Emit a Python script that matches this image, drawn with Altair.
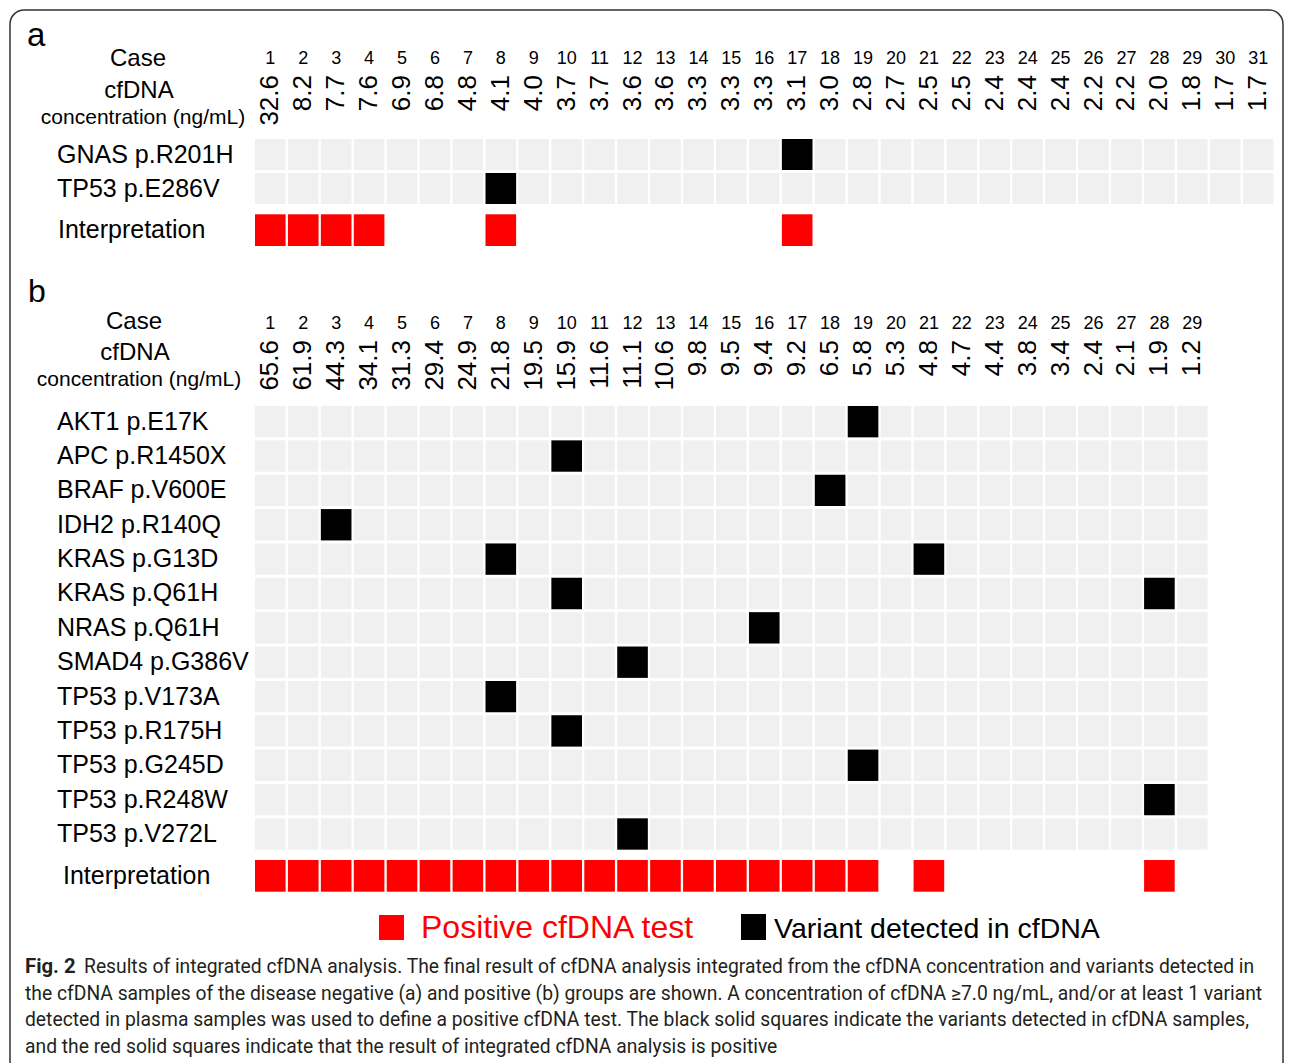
import altair as alt
import pandas as pd

# ---------------- data ----------------
cases_a = list(range(1, 32))
conc_a = ["32.6", "8.2", "7.7", "7.6", "6.9", "6.8", "4.8", "4.1", "4.0", "3.7", "3.7",
          "3.6", "3.6", "3.3", "3.3", "3.3", "3.1", "3.0", "2.8", "2.7", "2.5", "2.5",
          "2.4", "2.4", "2.4", "2.2", "2.2", "2.0", "1.8", "1.7", "1.7"]
variants_a = ["GNAS p.R201H", "TP53 p.E286V"]
detected_a = {"GNAS p.R201H": [17], "TP53 p.E286V": [8]}
positive_a = [1, 2, 3, 4, 8, 17]

cases_b = list(range(1, 30))
conc_b = ["65.6", "61.9", "44.3", "34.1", "31.3", "29.4", "24.9", "21.8", "19.5", "15.9",
          "11.6", "11.1", "10.6", "9.8", "9.5", "9.4", "9.2", "6.5", "5.8", "5.3", "4.8",
          "4.7", "4.4", "3.8", "3.4", "2.4", "2.1", "1.9", "1.2"]
variants_b = ["AKT1 p.E17K", "APC p.R1450X", "BRAF p.V600E", "IDH2 p.R140Q", "KRAS p.G13D",
              "KRAS p.Q61H", "NRAS p.Q61H", "SMAD4 p.G386V", "TP53 p.V173A", "TP53 p.R175H",
              "TP53 p.G245D", "TP53 p.R248W", "TP53 p.V272L"]
detected_b = {"AKT1 p.E17K": [19], "APC p.R1450X": [10], "BRAF p.V600E": [18],
              "IDH2 p.R140Q": [3], "KRAS p.G13D": [8, 21], "KRAS p.Q61H": [10, 28],
              "NRAS p.Q61H": [16], "SMAD4 p.G386V": [12], "TP53 p.V173A": [8],
              "TP53 p.R175H": [10], "TP53 p.G245D": [19], "TP53 p.R248W": [28],
              "TP53 p.V272L": [12]}
positive_b = list(range(1, 20)) + [21, 28]

interp_label = "Interpretation"
panel_labels = ["a", "b"]
header_labels = ["Case", "cfDNA", "concentration (ng/mL)"]
legend_labels = ["Positive cfDNA test", "Variant detected in cfDNA"]
caption_bold = "Fig. 2"
caption_lines = [
    "Results of integrated cfDNA analysis. The final result of cfDNA analysis integrated from the cfDNA concentration and variants detected in",
    "the cfDNA samples of the disease negative (a) and positive (b) groups are shown. A concentration of cfDNA \u22657.0 ng/mL, and/or at least 1 variant",
    "detected in plasma samples was used to define a positive cfDNA test. The black solid squares indicate the variants detected in cfDNA samples,",
    "and the red solid squares indicate that the result of integrated cfDNA analysis is positive",
]

# ---------------- styles ----------------
FONT = "Liberation Sans"
CAP_FONT = "Roboto"
CAP_SIZE = 19.3
GREY = "#f0f0f0"
RED = "#ff0000"
BLACK = "#000000"

X = alt.X("case:O", axis=None,
          scale=alt.Scale(domain=cases_a, range=[245, 1263.5], paddingInner=0.07, paddingOuter=0))


def grid_df(variants, cases, detected):
    return pd.DataFrame([{"variant": v, "case": c,
                          "status": "variant" if c in detected[v] else "none"}
                         for v in variants for c in cases])


def note(text, x, y, size, align="center", baseline="middle", weight="normal",
         color=BLACK, font=FONT):
    return alt.Chart(pd.DataFrame({"t": [text]})).mark_text(
        align=align, baseline=baseline, fontSize=size, fontWeight=weight,
        color=color, font=font).encode(text="t:N", x=alt.value(x), y=alt.value(y))


def panel(cases, conc, variants, detected, positive, var_range, int_range, step_pad,
          num_y, conc_y, lab_x, int_lab_x):
    yv = alt.Y("variant:N", axis=None, sort=variants,
               scale=alt.Scale(domain=variants, range=var_range,
                               paddingInner=step_pad, paddingOuter=0))
    grid = alt.Chart(grid_df(variants, cases, detected)).mark_rect().encode(
        x=X, y=yv,
        color=alt.Color("status:N", legend=None,
                        scale=alt.Scale(domain=["none", "variant"], range=[GREY, BLACK])))
    labels = alt.Chart(pd.DataFrame({"variant": variants})).mark_text(
        align="left", baseline="middle", fontSize=25, font=FONT, color=BLACK).encode(
        y=yv, x=alt.value(lab_x), text="variant:N")
    hdr = pd.DataFrame({"case": cases, "conc": conc})
    nums = alt.Chart(hdr).mark_text(baseline="middle", fontSize=18, font=FONT,
                                    color=BLACK).encode(
        x=X, y=alt.value(num_y), text="case:O")
    concs = alt.Chart(hdr).mark_text(angle=270, align="right", baseline="middle",
                                     fontSize=26, font=FONT, color=BLACK).encode(
        x=X, y=alt.value(conc_y), text="conc:N")
    var_layer = alt.layer(grid, labels, nums, concs)

    yi = alt.Y("row:N", axis=None,
               scale=alt.Scale(domain=[interp_label], range=int_range,
                               paddingInner=0, paddingOuter=0))
    interp = alt.Chart(pd.DataFrame({"row": interp_label, "case": positive})).mark_rect(
        color=RED).encode(x=X, y=yi)
    interp_lab = alt.Chart(pd.DataFrame({"row": [interp_label]})).mark_text(
        align="left", baseline="middle", fontSize=25, font=FONT, color=BLACK).encode(
        y=yi, x=alt.value(int_lab_x), text="row:N")
    int_layer = alt.layer(interp, interp_lab)
    return [var_layer, int_layer]


layers = []
layers += panel(cases_a, conc_a, variants_a, detected_a, positive_a,
                var_range=[129, 129 + 2 * 34 - 3], int_range=[204.3, 236],
                step_pad=3 / 34, num_y=49, conc_y=65, lab_x=47, int_lab_x=48)
layers += panel(cases_b, conc_b, variants_b, detected_b, positive_b,
                var_range=[396, 396 + 13 * 34.36 - 3], int_range=[850, 881.7],
                step_pad=3 / 34.36, num_y=314, conc_y=330, lab_x=47, int_lab_x=53)

# panel letters and headers
layers.append(note(panel_labels[0], 17, 36, 33, align="left", baseline="alphabetic"))
layers.append(note(panel_labels[1], 18, 292, 32, align="left", baseline="alphabetic"))
for (hx, hy), txt, sz in zip([(128, 49), (129, 81), (133, 108)], header_labels, [24, 24, 21]):
    layers.append(note(txt, hx, hy, sz))
for (hx, hy), txt, sz in zip([(124, 312), (125, 343), (129, 370)], header_labels, [24, 24, 21]):
    layers.append(note(txt, hx, hy, sz))

# legend
legend_sym = alt.Chart(pd.DataFrame({"k": legend_labels})).mark_rect().encode(
    x=alt.value(369), x2=alt.value(394), y=alt.value(905), y2=alt.value(930),
    color=alt.value(RED)).transform_filter(alt.datum.k == legend_labels[0])
legend_sym2 = alt.Chart(pd.DataFrame({"k": legend_labels})).mark_rect().encode(
    x=alt.value(731), x2=alt.value(756), y=alt.value(904), y2=alt.value(930),
    color=alt.value(BLACK)).transform_filter(alt.datum.k == legend_labels[1])
layers += [legend_sym, legend_sym2]
layers.append(note(legend_labels[0], 411, 928, 32, align="left", baseline="alphabetic", color=RED))
layers.append(note(legend_labels[1], 764, 928, 28.5, align="left", baseline="alphabetic"))

# caption
CAP_COLOR = "#231f20"
layers.append(note(caption_bold, 15, 957, CAP_SIZE + 1, align="left", weight="bold",
                   color=CAP_COLOR, font=CAP_FONT))
layers.append(note(caption_lines[0], 74, 957, CAP_SIZE, align="left", color=CAP_COLOR, font=CAP_FONT))
for i, ln in enumerate(caption_lines[1:]):
    layers.append(note(ln, 15, 983.5 + 26.7 * i, CAP_SIZE, align="left", color=CAP_COLOR,
                       font=CAP_FONT))

chart = alt.layer(*layers).resolve_scale(y="independent").properties(
    width=1276, height=1075,
    autosize=alt.AutoSizeParams(type="fit", contains="padding"),
    padding={"left": 2, "top": 2, "right": 1, "bottom": 0},
).configure_view(stroke="#333333", strokeWidth=1.5, cornerRadius=14)

chart.save("out.html", embed_options={"renderer": "svg", "actions": False})
